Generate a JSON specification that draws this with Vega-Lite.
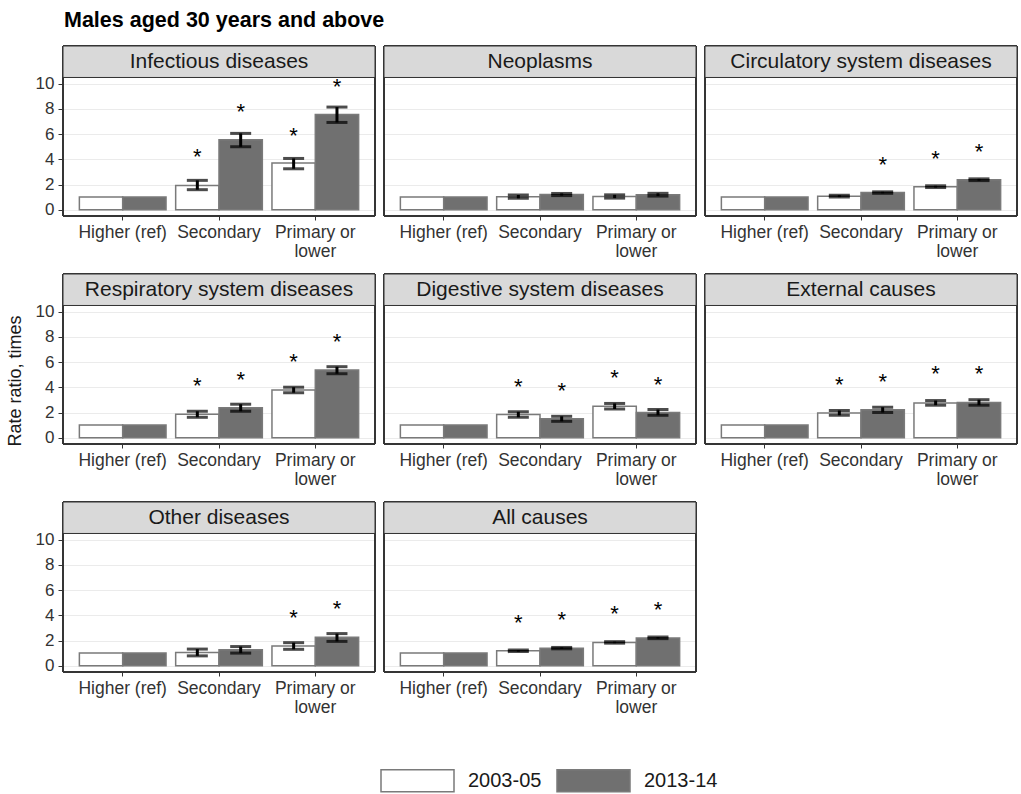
{
  "$schema": "https://vega.github.io/schema/vega-lite/v6.json",
  "padding": {"left": 6, "top": 10, "right": 0, "bottom": 0},
  "background": "white",
  "title": {"text": "Males aged 30 years and above", "anchor": "start", "fontSize": 21.5, "fontWeight": "bold", "font": "Liberation Sans", "color": "#000000", "dx": 57, "offset": 14},
  "config": {
    "font": "Liberation Sans",
    "view": {"stroke": null},
    "headerFacet": {"labels": false, "labelPadding": 0, "labelFontSize": 0},
    "axis": {"labelFont": "Liberation Sans", "titleFont": "Liberation Sans"},
    "axisY": {"labelOverlap": false}
  },
  "data": {"values": [
    {"cause": "Infectious diseases", "edu": "Higher (ref)", "period": "2003-05", "rr": 1, "lo": null, "hi": null, "star": null},
    {"cause": "Infectious diseases", "edu": "Higher (ref)", "period": "2013-14", "rr": 1, "lo": null, "hi": null, "star": null},
    {"cause": "Infectious diseases", "edu": "Secondary", "period": "2003-05", "rr": 1.93, "lo": 1.59, "hi": 2.33, "star": 4.55},
    {"cause": "Infectious diseases", "edu": "Secondary", "period": "2013-14", "rr": 5.56, "lo": 5.0, "hi": 6.06, "star": 8.12},
    {"cause": "Infectious diseases", "edu": "Primary or lower", "period": "2003-05", "rr": 3.7, "lo": 3.25, "hi": 4.07, "star": 6.27},
    {"cause": "Infectious diseases", "edu": "Primary or lower", "period": "2013-14", "rr": 7.57, "lo": 6.93, "hi": 8.15, "star": 10.13},
    {"cause": "Neoplasms", "edu": "Higher (ref)", "period": "2003-05", "rr": 1, "lo": null, "hi": null, "star": null},
    {"cause": "Neoplasms", "edu": "Higher (ref)", "period": "2013-14", "rr": 1, "lo": null, "hi": null, "star": null},
    {"cause": "Neoplasms", "edu": "Secondary", "period": "2003-05", "rr": 1.03, "lo": 0.9, "hi": 1.17, "star": null},
    {"cause": "Neoplasms", "edu": "Secondary", "period": "2013-14", "rr": 1.2, "lo": 1.12, "hi": 1.29, "star": null},
    {"cause": "Neoplasms", "edu": "Primary or lower", "period": "2003-05", "rr": 1.05, "lo": 0.92, "hi": 1.18, "star": null},
    {"cause": "Neoplasms", "edu": "Primary or lower", "period": "2013-14", "rr": 1.18, "lo": 1.08, "hi": 1.3, "star": null},
    {"cause": "Circulatory system diseases", "edu": "Higher (ref)", "period": "2003-05", "rr": 1, "lo": null, "hi": null, "star": null},
    {"cause": "Circulatory system diseases", "edu": "Higher (ref)", "period": "2013-14", "rr": 1, "lo": null, "hi": null, "star": null},
    {"cause": "Circulatory system diseases", "edu": "Secondary", "period": "2003-05", "rr": 1.07, "lo": 1.0, "hi": 1.15, "star": null},
    {"cause": "Circulatory system diseases", "edu": "Secondary", "period": "2013-14", "rr": 1.36, "lo": 1.3, "hi": 1.42, "star": 3.97},
    {"cause": "Circulatory system diseases", "edu": "Primary or lower", "period": "2003-05", "rr": 1.83, "lo": 1.76, "hi": 1.9, "star": 4.42},
    {"cause": "Circulatory system diseases", "edu": "Primary or lower", "period": "2013-14", "rr": 2.38, "lo": 2.31, "hi": 2.45, "star": 4.97},
    {"cause": "Respiratory system diseases", "edu": "Higher (ref)", "period": "2003-05", "rr": 1, "lo": null, "hi": null, "star": null},
    {"cause": "Respiratory system diseases", "edu": "Higher (ref)", "period": "2013-14", "rr": 1, "lo": null, "hi": null, "star": null},
    {"cause": "Respiratory system diseases", "edu": "Secondary", "period": "2003-05", "rr": 1.86, "lo": 1.62, "hi": 2.1, "star": 4.5},
    {"cause": "Respiratory system diseases", "edu": "Secondary", "period": "2013-14", "rr": 2.38, "lo": 2.1, "hi": 2.66, "star": 4.96},
    {"cause": "Respiratory system diseases", "edu": "Primary or lower", "period": "2003-05", "rr": 3.79, "lo": 3.57, "hi": 4.01, "star": 6.42},
    {"cause": "Respiratory system diseases", "edu": "Primary or lower", "period": "2013-14", "rr": 5.38, "lo": 5.08, "hi": 5.64, "star": 7.98},
    {"cause": "Digestive system diseases", "edu": "Higher (ref)", "period": "2003-05", "rr": 1, "lo": null, "hi": null, "star": null},
    {"cause": "Digestive system diseases", "edu": "Higher (ref)", "period": "2013-14", "rr": 1, "lo": null, "hi": null, "star": null},
    {"cause": "Digestive system diseases", "edu": "Secondary", "period": "2003-05", "rr": 1.85, "lo": 1.62, "hi": 2.06, "star": 4.46},
    {"cause": "Digestive system diseases", "edu": "Secondary", "period": "2013-14", "rr": 1.5, "lo": 1.3, "hi": 1.7, "star": 4.11},
    {"cause": "Digestive system diseases", "edu": "Primary or lower", "period": "2003-05", "rr": 2.5, "lo": 2.28, "hi": 2.72, "star": 5.12},
    {"cause": "Digestive system diseases", "edu": "Primary or lower", "period": "2013-14", "rr": 2.0, "lo": 1.78, "hi": 2.24, "star": 4.59},
    {"cause": "External causes", "edu": "Higher (ref)", "period": "2003-05", "rr": 1, "lo": null, "hi": null, "star": null},
    {"cause": "External causes", "edu": "Higher (ref)", "period": "2013-14", "rr": 1, "lo": null, "hi": null, "star": null},
    {"cause": "External causes", "edu": "Secondary", "period": "2003-05", "rr": 1.96, "lo": 1.78, "hi": 2.16, "star": 4.62},
    {"cause": "External causes", "edu": "Secondary", "period": "2013-14", "rr": 2.22, "lo": 2.0, "hi": 2.42, "star": 4.83},
    {"cause": "External causes", "edu": "Primary or lower", "period": "2003-05", "rr": 2.76, "lo": 2.58, "hi": 2.95, "star": 5.44},
    {"cause": "External causes", "edu": "Primary or lower", "period": "2013-14", "rr": 2.8, "lo": 2.58, "hi": 3.02, "star": 5.44},
    {"cause": "Other diseases", "edu": "Higher (ref)", "period": "2003-05", "rr": 1, "lo": null, "hi": null, "star": null},
    {"cause": "Other diseases", "edu": "Higher (ref)", "period": "2013-14", "rr": 1, "lo": null, "hi": null, "star": null},
    {"cause": "Other diseases", "edu": "Secondary", "period": "2003-05", "rr": 1.05, "lo": 0.78, "hi": 1.32, "star": null},
    {"cause": "Other diseases", "edu": "Secondary", "period": "2013-14", "rr": 1.26, "lo": 1.0, "hi": 1.52, "star": null},
    {"cause": "Other diseases", "edu": "Primary or lower", "period": "2003-05", "rr": 1.56, "lo": 1.3, "hi": 1.83, "star": 4.2},
    {"cause": "Other diseases", "edu": "Primary or lower", "period": "2013-14", "rr": 2.25, "lo": 1.93, "hi": 2.55, "star": 4.88},
    {"cause": "All causes", "edu": "Higher (ref)", "period": "2003-05", "rr": 1, "lo": null, "hi": null, "star": null},
    {"cause": "All causes", "edu": "Higher (ref)", "period": "2013-14", "rr": 1, "lo": null, "hi": null, "star": null},
    {"cause": "All causes", "edu": "Secondary", "period": "2003-05", "rr": 1.18, "lo": 1.12, "hi": 1.24, "star": 3.8},
    {"cause": "All causes", "edu": "Secondary", "period": "2013-14", "rr": 1.39, "lo": 1.34, "hi": 1.45, "star": 4.0},
    {"cause": "All causes", "edu": "Primary or lower", "period": "2003-05", "rr": 1.85, "lo": 1.79, "hi": 1.91, "star": 4.48},
    {"cause": "All causes", "edu": "Primary or lower", "period": "2013-14", "rr": 2.2, "lo": 2.15, "hi": 2.28, "star": 4.83}
  ]},
  "facet": {
    "field": "cause", "type": "nominal", "title": "Rate ratio, times",
    "sort": ["Infectious diseases", "Neoplasms", "Circulatory system diseases", "Respiratory system diseases", "Digestive system diseases", "External causes", "Other diseases", "All causes"],
    "header": {"labels": false, "labelExpr": "''", "titleOrient": "left", "titleFontSize": 18, "titleFontWeight": "normal", "titleFont": "Liberation Sans", "titleColor": "#1a1a1a"}
  },
  "columns": 3,
  "spacing": {"column": 7, "row": 13},
  "resolve": {"axis": {"x": "independent"}},
  "spec": {
    "width": 312,
    "height": 170,
    "layer": [
      {
        "mark": {"type": "bar", "stroke": "#7a7a7a", "strokeWidth": 1.5},
        "encoding": {
          "x": {"field": "edu", "type": "nominal", "sort": ["Higher (ref)", "Secondary", "Primary or lower"],
                "scale": {"paddingInner": 0.1, "paddingOuter": 0.17},
                "axis": {"title": null, "labelAngle": 0, "labelFontSize": 17.5, "labelColor": "#333333", "domain": false, "tickColor": "#333333", "tickSize": 4, "labelPadding": 3, "labelLineHeight": 19, "labelOverlap": false,
                         "labelExpr": "datum.value == 'Primary or lower' ? ['Primary or', 'lower'] : datum.value"}},
          "xOffset": {"field": "period", "type": "nominal", "scale": {"paddingInner": 0, "paddingOuter": 0}},
          "y": {"field": "rr", "type": "quantitative",
                "scale": {"domain": [-0.5, 13], "nice": false, "zero": false},
                "axis": {"title": null, "values": [0, 2, 4, 6, 8, 10], "labelOverlap": false, "labelFontSize": 17, "labelColor": "#333333", "domain": false, "tickColor": "#333333", "tickSize": 4, "labelPadding": 4, "gridColor": "#ebebeb", "gridWidth": 1.2}},
          "y2": {"datum": 0},
          "fill": {"field": "period", "type": "nominal", "title": null,
                   "scale": {"range": ["#ffffff", "#707070"]},
                   "legend": {"orient": "none", "legendX": 317, "legendY": 697, "direction": "horizontal", "labelFontSize": 20, "labelColor": "#1a1a1a", "labelFont": "Liberation Sans",
                              "symbolType": "M-1,-0.3H1V0.3H-1Z", "symbolSize": 5329, "symbolStrokeColor": "#7a7a7a", "symbolStrokeWidth": 1.5, "labelOffset": 13, "columnPadding": 12}}
        }
      },
      {
        "transform": [{"filter": "datum.lo != null"}],
        "mark": {"type": "rule", "color": "#000000", "strokeWidth": 3},
        "encoding": {
          "x": {"field": "edu", "type": "nominal", "sort": ["Higher (ref)", "Secondary", "Primary or lower"]},
          "xOffset": {"field": "period", "type": "nominal"},
          "y": {"field": "lo", "type": "quantitative", "axis": {"title": null, "values": [0, 2, 4, 6, 8, 10], "labelOverlap": false, "labelFontSize": 17, "labelColor": "#333333", "domain": false, "tickColor": "#333333", "tickSize": 4, "labelPadding": 4, "gridColor": "#ebebeb", "gridWidth": 1.2}},
          "y2": {"field": "hi"}
        }
      },
      {
        "transform": [{"filter": "datum.lo != null"}],
        "mark": {"type": "tick", "color": "#000000", "thickness": 3, "size": 21},
        "encoding": {
          "x": {"field": "edu", "type": "nominal", "sort": ["Higher (ref)", "Secondary", "Primary or lower"]},
          "xOffset": {"field": "period", "type": "nominal"},
          "y": {"field": "lo", "type": "quantitative", "axis": {"title": null, "values": [0, 2, 4, 6, 8, 10], "labelOverlap": false, "labelFontSize": 17, "labelColor": "#333333", "domain": false, "tickColor": "#333333", "tickSize": 4, "labelPadding": 4, "gridColor": "#ebebeb", "gridWidth": 1.2}}
        }
      },
      {
        "transform": [{"filter": "datum.lo != null"}],
        "mark": {"type": "tick", "color": "#000000", "thickness": 3, "size": 21},
        "encoding": {
          "x": {"field": "edu", "type": "nominal", "sort": ["Higher (ref)", "Secondary", "Primary or lower"]},
          "xOffset": {"field": "period", "type": "nominal"},
          "y": {"field": "hi", "type": "quantitative", "axis": {"title": null, "values": [0, 2, 4, 6, 8, 10], "labelOverlap": false, "labelFontSize": 17, "labelColor": "#333333", "domain": false, "tickColor": "#333333", "tickSize": 4, "labelPadding": 4, "gridColor": "#ebebeb", "gridWidth": 1.2}}
        }
      },
      {
        "transform": [{"filter": "datum.star != null"}],
        "mark": {"type": "text", "text": "*", "fontSize": 22, "color": "#000000", "baseline": "middle", "dy": 5},
        "encoding": {
          "x": {"field": "edu", "type": "nominal", "sort": ["Higher (ref)", "Secondary", "Primary or lower"]},
          "xOffset": {"field": "period", "type": "nominal"},
          "y": {"field": "star", "type": "quantitative", "axis": {"title": null, "values": [0, 2, 4, 6, 8, 10], "labelOverlap": false, "labelFontSize": 17, "labelColor": "#333333", "domain": false, "tickColor": "#333333", "tickSize": 4, "labelPadding": 4, "gridColor": "#ebebeb", "gridWidth": 1.2}}
        }
      },
      {
        "mark": {"type": "rect", "fill": null, "stroke": "#333333", "strokeWidth": 1},
        "encoding": {"y": {"datum": -0.5, "axis": {"title": null, "values": [0, 2, 4, 6, 8, 10], "labelOverlap": false, "labelFontSize": 17, "labelColor": "#333333", "domain": false, "tickColor": "#333333", "tickSize": 4, "labelPadding": 4, "gridColor": "#ebebeb", "gridWidth": 1.2}}, "y2": {"datum": 10.5}}
      },
      {
        "mark": {"type": "rect", "fill": "#d9d9d9", "stroke": "#333333", "strokeWidth": 1},
        "encoding": {"y": {"datum": 10.5, "axis": {"title": null, "values": [0, 2, 4, 6, 8, 10], "labelOverlap": false, "labelFontSize": 17, "labelColor": "#333333", "domain": false, "tickColor": "#333333", "tickSize": 4, "labelPadding": 4, "gridColor": "#ebebeb", "gridWidth": 1.2}}, "y2": {"datum": 13}}
      },
      {
        "transform": [{"filter": "datum.edu == 'Higher (ref)' && datum.period == '2003-05'"}],
        "mark": {"type": "text", "fontSize": 21, "color": "#1a1a1a", "baseline": "middle", "font": "Liberation Sans"},
        "encoding": {"text": {"field": "cause"}, "y": {"datum": 11.75, "axis": {"title": null, "values": [0, 2, 4, 6, 8, 10], "labelOverlap": false, "labelFontSize": 17, "labelColor": "#333333", "domain": false, "tickColor": "#333333", "tickSize": 4, "labelPadding": 4, "gridColor": "#ebebeb", "gridWidth": 1.2}}}
      }
    ]
  }
}
